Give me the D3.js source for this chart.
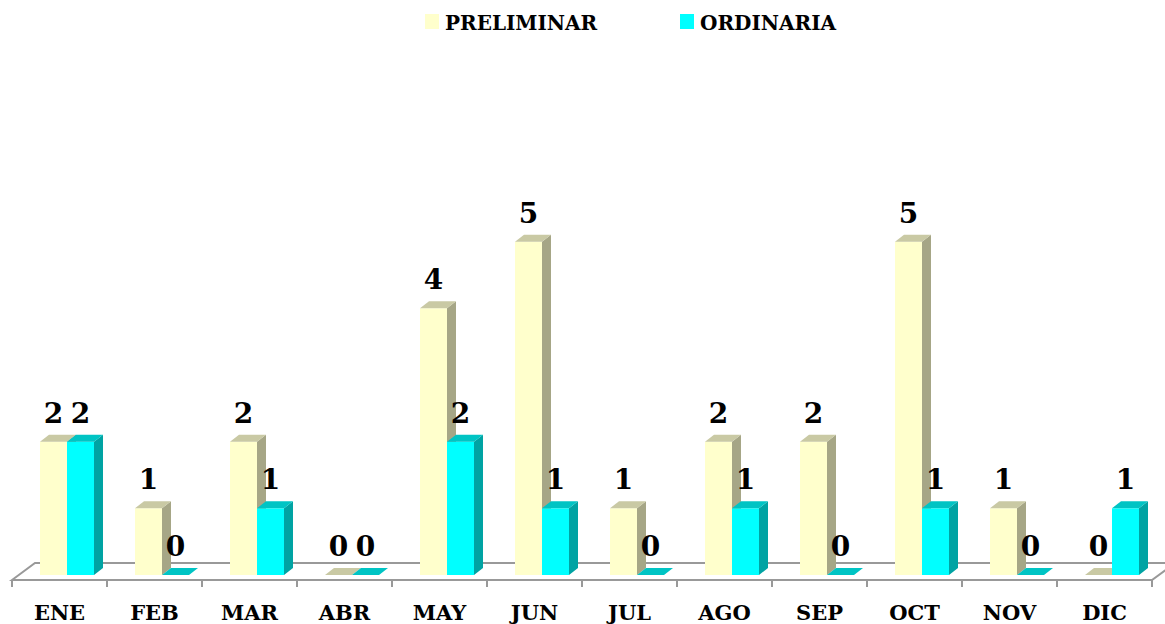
<!DOCTYPE html>
<html>
<head>
<meta charset="utf-8"/>
<script src="https://d3js.org/d3.v7.min.js"></script>
<style>
  body { margin: 0; background: #fff; }
  text { font-family: "DejaVu Serif", "Liberation Serif", serif; font-weight: bold; fill: #000; }
</style>
</head>
<body>
<svg width="1165" height="624"></svg>
<script>
// data
const months = ["ENE", "FEB", "MAR", "ABR", "MAY", "JUN", "JUL", "AGO", "SEP", "OCT", "NOV", "DIC"];
const series = ["PRELIMINAR", "ORDINARIA"];
const preliminar = [2, 1, 2, 0, 4, 5, 1, 2, 2, 5, 1, 0];
const ordinaria = [2, 0, 1, 0, 2, 1, 0, 1, 0, 1, 0, 1];

const colors = {
  PRELIMINAR: { front: "#ffffcc", side: "#a6a686", top: "#c9c9a4" },
  ORDINARIA: { front: "#00ffff", side: "#00a3a3", top: "#00c4c4" }
};

const svg = d3.select("svg");
const dx = 9, dy = -7;        // 3D depth offset
const base = 575;             // bar bottom

const x = d3.scaleBand().domain(months).range([12, 1152]);
const xs = d3.scaleBand().domain(series).range([28, 82]);
const y = d3.scaleLinear().domain([0, 6]).range([base, 175]);

// floor
const fy = 580, bx = 23, by = -17;
svg.append("path")
  .attr("d", `M12,${fy} L${12 + bx},${fy + by} L${1152 + bx},${fy + by} L1152,${fy} Z`)
  .attr("fill", "#fff").attr("stroke", "#999").attr("stroke-width", 2);
svg.selectAll(".tick").data(d3.range(months.length + 1)).join("line")
  .attr("x1", i => 12 + i * x.bandwidth()).attr("x2", i => 12 + i * x.bandwidth())
  .attr("y1", fy).attr("y2", fy + 7)
  .attr("stroke", "#999").attr("stroke-width", 2);

const rows = [];
months.forEach((m, i) => {
  rows.push({ m, s: "PRELIMINAR", v: preliminar[i] });
  rows.push({ m, s: "ORDINARIA", v: ordinaria[i] });
});

const w = xs.bandwidth();
const g = svg.append("g");
rows.forEach(d => {
  const x0 = x(d.m) + xs(d.s), x1 = x0 + w, yt = y(d.v), c = colors[d.s];
  if (d.v > 0) {
    g.append("rect").attr("x", x0).attr("y", yt).attr("width", w).attr("height", base - yt).attr("fill", c.front);
    g.append("path").attr("d", `M${x1},${yt} L${x1 + dx},${yt + dy} L${x1 + dx},${base + dy} L${x1},${base} Z`).attr("fill", c.side);
  }
  g.append("path").attr("d", `M${x0},${yt} L${x0 + dx},${yt + dy} L${x1 + dx},${yt + dy} L${x1},${yt} Z`).attr("fill", c.top);
});

// value labels
svg.selectAll(".val").data(rows).join("text")
  .attr("x", d => x(d.m) + xs(d.s) + w / 2)
  .attr("y", d => y(d.v) - 19)
  .attr("text-anchor", "middle")
  .style("font-size", "28px")
  .text(d => d.v);

// category labels
svg.selectAll(".cat").data(months).join("text")
  .attr("x", d => x(d) + x.bandwidth() / 2)
  .attr("y", 620)
  .attr("text-anchor", "middle")
  .style("font-size", "21px")
  .text(d => d);

// legend
const lx = [425, 680];
series.forEach((s, i) => {
  svg.append("rect").attr("x", lx[i]).attr("y", 14).attr("width", 14).attr("height", 15).attr("fill", colors[s].front);
  svg.append("text").attr("x", lx[i] + 20).attr("y", 30).style("font-size", "20px").text(s);
});
</script>
</body>
</html>
